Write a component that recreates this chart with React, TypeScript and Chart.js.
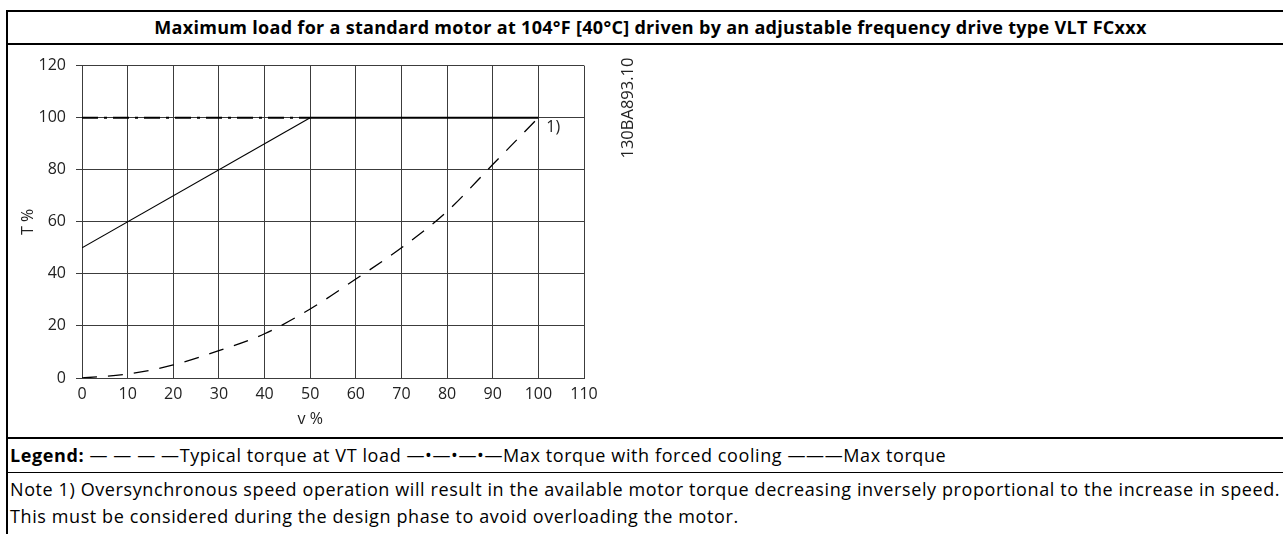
import React, { useEffect, useRef } from "react";
import { Chart, registerables } from "chart.js";

Chart.register(...registerables);

// ---- data ----
const speedPct = [0, 10, 20, 30, 40, 50, 60, 70, 80, 90, 100];
const typicalTorqueVT = [0, 1.5, 5, 10.5, 17, 26.5, 38, 50, 64, 82, 100];
const forcedCoolingSpeed = [0, 50];
const forcedCoolingTorque = [100, 100];
const maxTorqueSpeed = [0, 50, 100];
const maxTorqueValues = [50, 100, 100];
const xTicks = [0, 10, 20, 30, 40, 50, 60, 70, 80, 90, 100, 110];
const yTicks = [0, 20, 40, 60, 80, 100, 120];

const titleText =
  "Maximum load for a standard motor at 104°F [40°C] driven by an adjustable frequency drive type VLT FCxxx";
const legendLabel = "Legend:";
const legendText =
  " — — — —Typical torque at VT load —•—•—•—Max torque with forced cooling ———Max torque";
const noteLine1 =
  "Note 1) Oversynchronous speed operation will result in the available motor torque decreasing inversely proportional to the increase in speed.";
const noteLine2 =
  "This must be considered during the design phase to avoid overloading the motor.";
const drawingCode = "130BA893.10";
const noteMarker = "1)";
const xTitle = "v %";
const yTitle = "T %";

const FONT = "'Open Sans', 'Noto Sans', sans-serif";
const GRID = "#3c3c3c";
const TXT = "#222";

const pairs = (xs: number[], ys: number[]) => xs.map((x, i) => ({ x, y: ys[i] }));

const extrasPlugin = {
  id: "extras",
  afterDraw(chart: any) {
    const { ctx, chartArea, scales } = chart;
    const xs = scales.x;
    const ys = scales.y;
    ctx.save();
    ctx.fillStyle = TXT;
    ctx.font = `16px ${FONT}`;
    // x axis title centred over 0..100
    ctx.textAlign = "center";
    ctx.textBaseline = "middle";
    ctx.fillText(xTitle, xs.getPixelForValue(50), chartArea.bottom + 41);
    // note marker
    ctx.textAlign = "left";
    ctx.fillText(noteMarker, xs.getPixelForValue(100) + 8, ys.getPixelForValue(100) + 10);
    // drawing code, rotated
    ctx.translate(chartArea.right + 44, chartArea.top - 8);
    ctx.rotate(-Math.PI / 2);
    ctx.textAlign = "right";
    ctx.textBaseline = "middle";
    ctx.font = `16.5px ${FONT}`;
    ctx.fillText(drawingCode, 0, 0);
    ctx.restore();
  },
};

function TorqueChart() {
  const ref = useRef<HTMLCanvasElement | null>(null);
  useEffect(() => {
    if (!ref.current) return;
    const chart = new Chart(ref.current, {
      type: "line",
      data: {
        datasets: [
          {
            label: "Typical torque at VT load",
            data: pairs(speedPct, typicalTorqueVT),
            borderColor: "#000",
            borderWidth: 1.3,
            borderDash: [15, 11],
            pointRadius: 0,
            cubicInterpolationMode: "monotone",
            fill: false,
          },
          {
            label: "Max torque with forced cooling",
            data: pairs(forcedCoolingSpeed, forcedCoolingTorque),
            borderColor: "#000",
            borderWidth: 2,
            borderDash: [16, 6, 3, 6],
            pointRadius: 0,
            fill: false,
          },
          {
            label: "Max torque",
            data: pairs(maxTorqueSpeed, maxTorqueValues),
            borderColor: "#000",
            borderWidth: 1.2,
            pointRadius: 0,
            fill: false,
            segment: {
              borderWidth: (c: any) => (c.p0DataIndex === 1 ? 2 : 1.2),
            },
          },
        ],
      },
      options: {
        animation: false,
        responsive: false,
        maintainAspectRatio: false,
        layout: { padding: { top: 19, right: 124, left: 0, bottom: 0 } },
        plugins: {
          legend: { display: false },
          tooltip: { enabled: false },
        },
        scales: {
          x: {
            type: "linear",
            min: 0,
            max: 110,
            afterBuildTicks: (s: any) => {
              s.ticks = xTicks.map((v) => ({ value: v }));
            },
            afterFit: (s: any) => {
              s.height = 59;
            },
            ticks: {
              color: TXT,
              font: { family: FONT, size: 16 },
              padding: 7,
              maxRotation: 0,
              autoSkip: false,
            },
            grid: { color: GRID, lineWidth: 1, drawTicks: false },
            border: { color: GRID, width: 1 },
          },
          y: {
            type: "linear",
            min: 0,
            max: 120,
            afterBuildTicks: (s: any) => {
              s.ticks = yTicks.map((v) => ({ value: v }));
            },
            afterFit: (s: any) => {
              s.width = 74;
            },
            ticks: {
              color: TXT,
              font: { family: FONT, size: 16 },
              padding: 10,
              autoSkip: false,
            },
            grid: { color: GRID, lineWidth: 1, drawTicks: true, tickLength: 6 },
            border: { color: GRID, width: 1 },
            title: {
              display: true,
              text: yTitle,
              color: TXT,
              font: { family: FONT, size: 16 },
              padding: { top: 11, bottom: 0 },
            },
          },
        },
      },
      plugins: [extrasPlugin],
    });
    return () => chart.destroy();
  }, []);
  return (
    <canvas
      ref={ref}
      width={700}
      height={391}
      style={{ position: "absolute", left: 8, top: 46, width: 700, height: 391 }}
    />
  );
}

const hLine = (top: number, h: number): React.CSSProperties => ({
  position: "absolute",
  left: 6,
  top,
  width: 1300,
  height: h,
  background: "#000",
});

export default function App() {
  return (
    <div
      style={{
        position: "absolute",
        left: 0,
        top: 0,
        width: 1283,
        height: 534,
        overflow: "hidden",
        background: "#fff",
        fontFamily: FONT,
        color: "#000",
      }}
    >
      <div style={{ position: "absolute", left: 6, top: 10, width: 2, height: 540, background: "#000" }} />
      <div style={hLine(10, 2)} />
      <div
        style={{
          position: "absolute",
          left: 8,
          top: 12,
          width: 1285,
          height: 31,
          lineHeight: "31px",
          textAlign: "center",
          fontWeight: 700,
          fontSize: 18,
          letterSpacing: 0.3,
          whiteSpace: "nowrap",
        }}
      >
        {titleText}
      </div>
      <div style={hLine(43, 2)} />
      <TorqueChart />
      <div style={hLine(437, 2)} />
      <div
        style={{
          position: "absolute",
          left: 10,
          top: 439,
          height: 33,
          lineHeight: "33px",
          fontSize: 18,
          letterSpacing: 0.6,
          whiteSpace: "nowrap",
        }}
      >
        <b>{legendLabel}</b>
        {legendText}
      </div>
      <div style={hLine(472, 1)} />
      <div
        style={{
          position: "absolute",
          left: 10,
          top: 476,
          fontSize: 18,
          letterSpacing: 0.6,
          lineHeight: "27px",
          whiteSpace: "nowrap",
        }}
      >
        <div>{noteLine1}</div>
        <div>{noteLine2}</div>
      </div>
    </div>
  );
}
